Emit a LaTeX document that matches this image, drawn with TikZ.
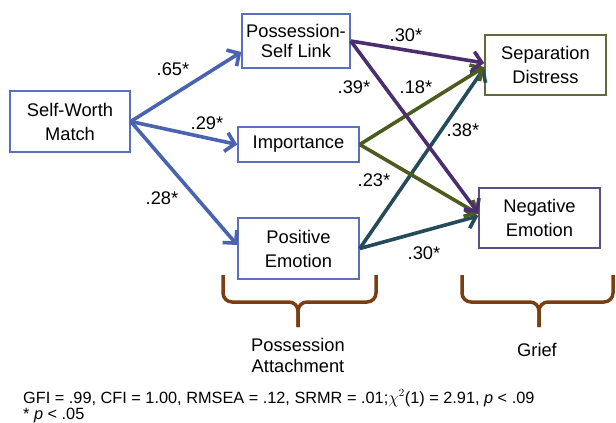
\documentclass[tikz,border=0pt]{standalone}
\usepackage{fontspec}
\setmainfont{Liberation Sans}
\usetikzlibrary{arrows.meta}
\definecolor{boxblue}{HTML}{5B6FBF}
\definecolor{boxolive}{HTML}{5F6B3B}
\definecolor{boxpurple}{HTML}{5F4D86}
\definecolor{arrblue}{HTML}{4A63B0}
\definecolor{arrpurple}{HTML}{4A2E6E}
\definecolor{arrolive}{HTML}{4D5B1E}
\definecolor{arrteal}{HTML}{254B5B}
\definecolor{bracebrown}{HTML}{7B3D12}
\begin{document}
\begin{tikzpicture}[x=1pt,y=-1pt,
  box/.style={draw=boxblue, line width=1.5pt, minimum width=121pt, minimum height=60pt,
    inner sep=0pt, align=center, font=\fontsize{18.3}{24}\selectfont},
  conn/.style={line width=3.6pt, -{Straight Barb[length=9pt,width=19pt]}},
  lbl/.style={font=\fontsize{18.3}{22}\selectfont, inner sep=0pt},
  brace/.style={draw=bracebrown, line width=3.5pt, rounded corners=9pt},
  foot/.style={font=\fontsize{16.3}{20}\selectfont, inner sep=0pt, anchor=base west}]
\useasboundingbox (0,0) rectangle (616,423);
% boxes
\node[box, minimum width=120pt, minimum height=61pt] (sw) at (70,121.5) {Self-Worth\\Match};
\node[box, minimum width=108pt, minimum height=54pt, font=\fontsize{18.3}{20}\selectfont] (psl) at (296,41) {Possession-\\Self Link};
\node[box, minimum height=35pt] (imp) at (298.5,144.5) {Importance};
\node[box, minimum height=61pt] (pe) at (298.5,248.5) {Positive\\Emotion};
\node[box, draw=boxolive] (sd) at (545.5,65) {Separation\\Distress};
\node[box, draw=boxpurple] (ne) at (539.5,218) {Negative\\Emotion};
% connectors
\draw[conn, arrblue] (sw.east) -- ([yshift=-11pt]psl.west);
\draw[conn, arrblue] (sw.east) -- (imp.west);
\draw[conn, arrblue] (sw.east) -- ([yshift=3.5pt]pe.west);
\draw[conn, arrteal] (pe.east) -- ([yshift=-3pt]sd.west);
\draw[conn, arrteal] (pe.east) -- ([yshift=2pt]ne.west);
\draw[conn, arrolive] (imp.east) -- ([yshift=-2pt]sd.west);
\draw[conn, arrolive] (imp.east) -- ([yshift=4pt]ne.west);
\draw[conn, arrpurple] (psl.east) -- ([yshift=2pt]sd.west);
\draw[conn, arrpurple] (psl.east) -- ([yshift=5pt]ne.west);
% labels
\node[lbl] (l65) at (173,69) {.65*};
\node[lbl] (l29) at (207,123) {.29*};
\node[lbl] (l28) at (162,198) {.28*};
\node[lbl] (l30a) at (406,35) {.30*};
\node[lbl] (l39) at (354,87) {.39*};
\node[lbl] (l18) at (416,87) {.18*};
\node[lbl] (l38) at (463,130) {.38*};
\node[lbl] (l23) at (374,180) {.23*};
\node[lbl] (l30b) at (424,253) {.30*};
% braces
\draw[brace] (223,275) -- (223,302) -- (298,302) -- (298,327);
\draw[brace] (376,275) -- (376,302) -- (298,302) -- (298,327);
\draw[brace] (462,275) -- (462,302) -- (539,302) -- (539,327);
\draw[brace] (613,275) -- (613,302) -- (539,302) -- (539,327);
\node[lbl, align=center, font=\fontsize{18.3}{21}\selectfont] (pa) at (298,355.5) {Possession\\Attachment};
\node[lbl] (gr) at (537,349.5) {Grief};
% footer
\node[foot] (f1) at (23,403) {GFI = .99, CFI = 1.00, RMSEA = .12, SRMR = .01;$\chi^2$(1) = 2.91, \textit{p} < .09};
\node[foot] (f2) at (23,419) {* \textit{p} < .05};
\end{tikzpicture}
\end{document}
